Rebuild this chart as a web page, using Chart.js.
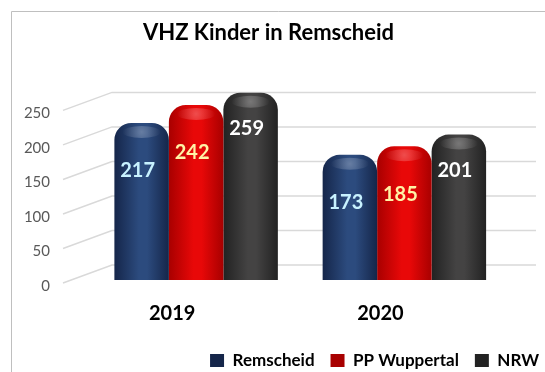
<!DOCTYPE html>
<html lang="de">
<head>
<meta charset="utf-8">
<title>VHZ Kinder in Remscheid</title>
<script src="https://cdn.jsdelivr.net/npm/chart.js@4.4.1/dist/chart.umd.min.js"></script>
<style>
  html, body { margin: 0; padding: 0; background: #ffffff; }
  #wrap { position: relative; width: 545px; height: 372px; }
</style>
</head>
<body>
<div id="wrap"><canvas id="vhzChart" width="545" height="372"></canvas></div>
<script>
// Verkehrsunfälle mit Kindern (VHZ) je Jahr
const years = ["2019", "2020"];
const remscheid = [217, 173];
const ppWuppertal = [242, 185];
const nrw = [259, 201];

const FONT = "Lato, 'Open Sans', sans-serif";
const CAT_PCT = 0.785;

// edge / centre colours for the cylinder shading
const shades = [
  { edge: "#15264a", mid: "#2c4b7e", flat: "#24407a", label: "#c8f2ff" },
  { edge: "#a80000", mid: "#e80808", flat: "#e00000", label: "#fff3a6" },
  { edge: "#222222", mid: "#444343", flat: "#3c3c3c", label: "#ffffff" },
];
// how far below the top of each bar its value is written
const labelDrop = [48, 48, 36];

function barFill(ctx) {
  const s = shades[ctx.datasetIndex];
  const chart = ctx.chart;
  const xs = chart.scales.x;
  if (ctx.type !== "data" || !xs || !chart.chartArea) return s.flat;
  const w = (xs.width / years.length) * CAT_PCT / 3;
  const cx = xs.getPixelForValue(ctx.dataIndex) + (ctx.datasetIndex - 1) * w;
  const g = chart.ctx.createLinearGradient(cx - w / 2, 0, cx + w / 2, 0);
  g.addColorStop(0, s.edge);
  g.addColorStop(0.45, s.mid);
  g.addColorStop(0.6, s.mid);
  g.addColorStop(1, s.edge);
  return g;
}

// grey frame around the chart (left and top edges visible)
const frame = {
  id: "frame",
  beforeDraw(chart) {
    const c = chart.ctx;
    c.save();
    c.strokeStyle = "#bfbfbf";
    c.lineWidth = 1;
    c.beginPath();
    c.moveTo(11.5, chart.height);
    c.lineTo(11.5, 11.5);
    c.lineTo(chart.width, 11.5);
    c.stroke();
    c.restore();
  },
};

// gridlines on the floor edge and back wall
const wallGrid = {
  id: "wallGrid",
  beforeDatasetsDraw(chart) {
    const ys = chart.scales.y;
    const c = chart.ctx;
    c.save();
    c.strokeStyle = "#d9d9d9";
    c.lineWidth = 1.5;
    ys.ticks.forEach(t => {
      const fy = ys.getPixelForValue(t.value);
      c.beginPath();
      c.moveTo(63, fy - 3);
      c.lineTo(112, fy - 21);
      c.lineTo(536, fy - 21);
      c.stroke();
    });
    c.restore();
  },
};

// top sheen and value labels on the bars
const barDecor = {
  id: "barDecor",
  afterDatasetsDraw(chart) {
    const c = chart.ctx;
    chart.data.datasets.forEach((ds, di) => {
      const meta = chart.getDatasetMeta(di);
      meta.data.forEach((bar, i) => {
        const w = bar.width;
        c.save();
        const hy = bar.y + 9;
        const rg = c.createRadialGradient(bar.x, hy, 0, bar.x, hy, w * 0.35);
        rg.addColorStop(0, "rgba(255,255,255,0.28)");
        rg.addColorStop(1, "rgba(255,255,255,0)");
        c.fillStyle = rg;
        c.beginPath();
        c.ellipse(bar.x, hy, w * 0.35, 6, 0, 0, Math.PI * 2);
        c.fill();

        c.fillStyle = shades[di].label;
        c.font = "bold 20px " + FONT;
        c.textAlign = "center";
        c.textBaseline = "middle";
        c.fillText(ds.data[i], bar.x - 4, bar.y + labelDrop[di]);
        c.restore();
      });
    });
  },
};

const datasets = [
  { label: "Remscheid", data: remscheid },
  { label: "PP Wuppertal", data: ppWuppertal },
  { label: "NRW", data: nrw },
].map((d, i) => ({
  ...d,
  yAxisID: "yBar",
  backgroundColor: barFill,
  borderWidth: 0,
  borderRadius: { topLeft: 17, topRight: 17, bottomLeft: 0, bottomRight: 0 },
  borderSkipped: "bottom",
  categoryPercentage: CAT_PCT,
  barPercentage: 1,
  clip: false,
}));

new Chart(document.getElementById("vhzChart"), {
  type: "bar",
  data: { labels: years, datasets: datasets },
  plugins: [frame, wallGrid, barDecor],
  options: {
    responsive: false,
    animation: false,
    // the title and legend run a bit past the canvas edges
    layout: { padding: { left: -18, right: -10, top: 0, bottom: -7 } },
    scales: {
      x: {
        grid: { display: false },
        border: { display: false },
        ticks: {
          color: "#000000",
          font: { family: FONT, size: 20, weight: "bold" },
          padding: 8,
          labelOffset: -24,
        },
        afterFit(scale) { scale.height = 50; },
      },
      y: {
        position: "left",
        min: 0,
        max: 250,
        grid: { display: false, drawTicks: false },
        border: { display: false },
        ticks: {
          stepSize: 50,
          color: "#595959",
          font: { family: FONT, size: 15 },
          padding: 42,
        },
        afterFit(scale) { scale.width = 110; },
      },
      // bars stand a little in front of the wall, so they get their own value axis
      yBar: {
        position: "right",
        min: -8.4,
        max: 230.3,
        grid: { display: false, drawTicks: false },
        border: { display: false },
        ticks: { display: false },
        afterFit(scale) { scale.width = 46.5; },
      },
    },
    plugins: {
      title: {
        display: true,
        text: "VHZ Kinder in Remscheid",
        color: "#000000",
        font: { family: FONT, size: 22, weight: "bold", lineHeight: 1.2 },
        padding: { top: 20, bottom: 67 },
      },
      legend: {
        position: "bottom",
        align: "end",
        labels: {
          boxWidth: 14,
          boxHeight: 13,
          padding: 16,
          color: "#000000",
          font: { family: FONT, size: 17, weight: "bold" },
        },
      },
      tooltip: { enabled: false },
    },
  },
});
</script>
</body>
</html>
